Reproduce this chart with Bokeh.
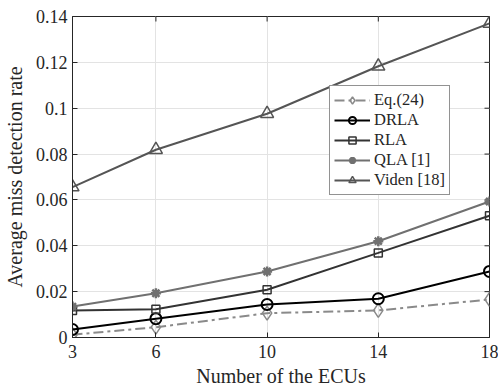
import math
from bokeh.plotting import figure
from bokeh.models import FixedTicker, Legend, LegendItem, Range1d
from bokeh.embed import file_html
from bokeh.resources import INLINE

ecus = [3, 6, 10, 14, 18]
eq24 = [0.0012, 0.0045, 0.0106, 0.0118, 0.0166]
drla = [0.0035, 0.0082, 0.0144, 0.0169, 0.0288]
rla = [0.0118, 0.0123, 0.0208, 0.0369, 0.0531]
qla = [0.0135, 0.0193, 0.0288, 0.0420, 0.0593]
viden = [0.0656, 0.0819, 0.0976, 0.1183, 0.1370]

x_ticks = [3, 6, 10, 14, 18]
y_ticks = [0, 0.02, 0.04, 0.06, 0.08, 0.10, 0.12, 0.14]
y_tick_labels = ["0", "0.02", "0.04", "0.06", "0.08", "0.1", "0.12", "0.14"]

FONT = "Liberation Serif"
AXC = "#262626"

p = figure(width=498, height=385, output_backend="svg", toolbar_location=None,
           x_range=Range1d(3, 18), y_range=Range1d(0, 0.14),
           frame_width=417, frame_height=321,
           min_border_left=72, min_border_right=9, min_border_top=16, min_border_bottom=48)

p.background_fill_color = "white"
p.border_fill_color = "white"
p.outline_line_color = AXC
p.outline_line_width = 1

for ax in (p.xaxis[0], p.yaxis[0]):
    ax.major_tick_in = 5
    ax.major_tick_out = 0
    ax.minor_tick_line_color = None
    ax.axis_line_color = AXC
    ax.major_tick_line_color = AXC
    ax.major_label_text_font = FONT
    ax.major_label_text_font_size = "18px"
    ax.major_label_text_color = AXC
    ax.axis_label_text_font = FONT
    ax.axis_label_text_font_size = "20px"
    ax.axis_label_text_font_style = "normal"
    ax.axis_label_text_color = AXC

p.xaxis.ticker = FixedTicker(ticks=x_ticks)
p.yaxis.ticker = FixedTicker(ticks=y_ticks)
p.yaxis.major_label_overrides = {v: s for v, s in zip(y_ticks, y_tick_labels)}
p.xaxis.axis_label = "Number of the ECUs"
p.yaxis.axis_label = "Average miss detection rate"
p.xaxis.axis_label_standoff = 4
p.yaxis.axis_label_standoff = 7
p.xaxis.major_label_standoff = 7
p.yaxis.major_label_standoff = 5

p.xgrid.ticker = FixedTicker(ticks=x_ticks)
p.ygrid.ticker = FixedTicker(ticks=y_ticks)
p.grid.grid_line_color = "#e3e3e3"
p.grid.grid_line_width = 1

# Inward ticks on the right and top edges of the box
p.ray(x=[18] * len(y_ticks), y=y_ticks, length=5, length_units="screen",
      angle=math.pi, line_color=AXC, line_width=1)
p.ray(x=x_ticks, y=[0.14] * len(x_ticks), length=5, length_units="screen",
      angle=-math.pi / 2, line_color=AXC, line_width=1)

items = []

l1 = p.line(ecus, eq24, line_color="#8a8a8a", line_width=2, line_dash="10 4 3 4")
m1 = p.scatter(ecus, eq24, marker="diamond", size=14, fill_color=None,
               line_color="#8a8a8a", line_width=1.5)
items.append(LegendItem(label="Eq.(24)", renderers=[l1, m1]))

l2 = p.line(ecus, drla, line_color="#000000", line_width=2)
m2 = p.scatter(ecus, drla, marker="circle", size=11, fill_color=None,
               line_color="#000000", line_width=2)
items.append(LegendItem(label="DRLA", renderers=[l2, m2]))

l3 = p.line(ecus, rla, line_color="#333333", line_width=2)
m3 = p.scatter(ecus, rla, marker="square", size=8, fill_color=None,
               line_color="#333333", line_width=1.5)
items.append(LegendItem(label="RLA", renderers=[l3, m3]))

l4 = p.line(ecus, qla, line_color="#707070", line_width=2)
m4 = p.scatter(ecus, qla, marker="asterisk", size=10, fill_color=None,
               line_color="#707070", line_width=2.5)
items.append(LegendItem(label="QLA [1]", renderers=[l4, m4]))

l5 = p.line(ecus, viden, line_color="#555555", line_width=2)
m5 = p.scatter(ecus, viden, marker="triangle", size=13, fill_color=None,
               line_color="#555555", line_width=1.5)
items.append(LegendItem(label="Viden [18]", renderers=[l5, m5]))

legend = Legend(items=items, location=(257, 142))
legend.label_text_font = FONT
legend.label_text_font_size = "16.5px"
legend.label_text_color = AXC
legend.glyph_width = 36
legend.glyph_height = 18
legend.label_height = 18
legend.spacing = 0
legend.padding = 4
legend.margin = 0
legend.label_standoff = 4
legend.border_line_color = AXC
legend.border_line_width = 1
legend.background_fill_color = "white"
legend.background_fill_alpha = 1
p.add_layout(legend, "center")

open("out.html", "w").write(file_html(p, INLINE))
